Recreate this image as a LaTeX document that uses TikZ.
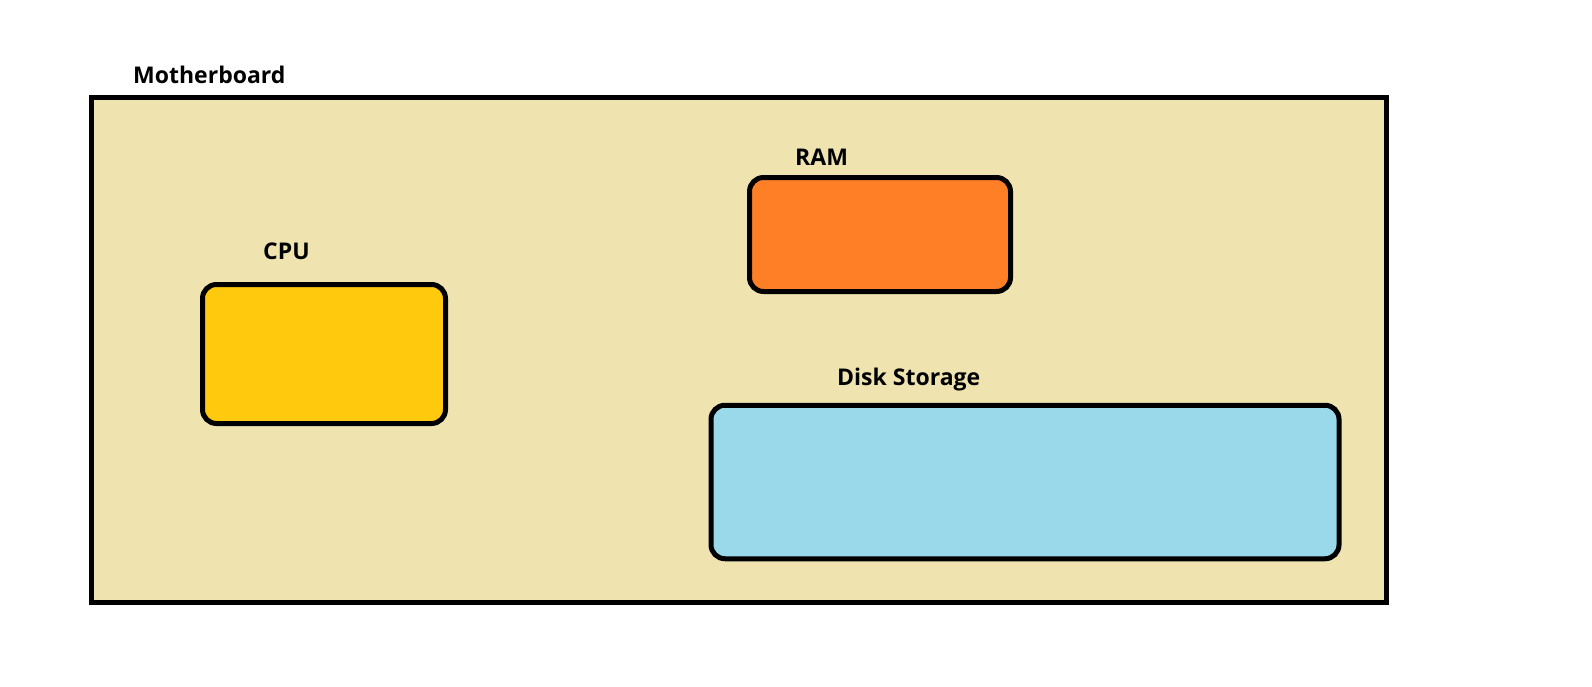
\documentclass[tikz,border=0pt]{standalone}
\usepackage{fontspec}
\setmainfont{Open Sans}
\definecolor{boardfill}{HTML}{EFE4B0}
\definecolor{cpufill}{HTML}{FFC90E}
\definecolor{ramfill}{HTML}{FF7F27}
\definecolor{diskfill}{HTML}{99D9EA}
\begin{document}
\begin{tikzpicture}[x=1pt,y=-1pt,
  board/.style={draw=black, line width=5pt, fill=boardfill, inner sep=0pt, minimum width=1295pt, minimum height=505pt},
  part/.style={draw=black, line width=5pt, rounded corners=14pt, inner sep=0pt},
  lbl/.style={anchor=base west, inner sep=0pt, font=\bfseries\fontsize{23}{27}\selectfont}]
\useasboundingbox (0,0) rectangle (1592,686);
\fill[white] (0,0) rectangle (1592,686);
\node[board] (mb) at (739,350) {};
\node[part, fill=cpufill, minimum width=243pt, minimum height=139pt] (cpu) at (324,354) {};
\node[part, fill=ramfill, minimum width=261pt, minimum height=114pt] (ram) at (880,234.5) {};
\node[part, fill=diskfill, minimum width=628pt, minimum height=153.5pt] (disk) at (1025,482) {};
\node[lbl] (mblbl) at (133,83) {Motherboard};
\node[lbl] (cpulbl) at (263,259) {CPU};
\node[lbl] (ramlbl) at (795,165) {RAM};
\node[lbl] (disklbl) at (837,385) {Disk Storage};
\end{tikzpicture}
\end{document}
